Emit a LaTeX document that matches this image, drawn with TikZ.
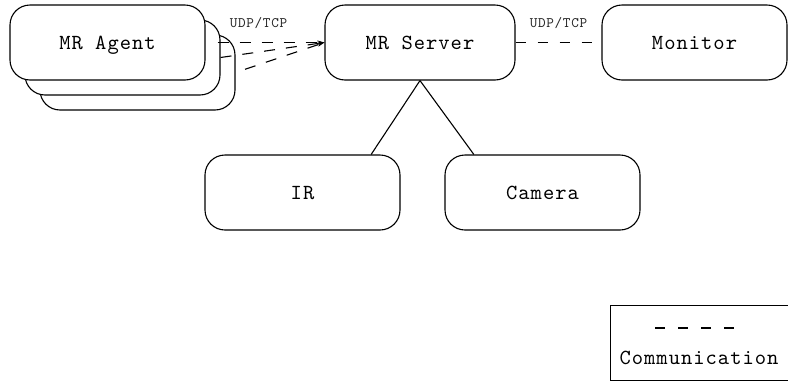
\documentclass[tikz,border=0pt]{standalone}
\usepackage{fontspec}
\setmonofont{lmmono10-regular.otf}[LetterSpace=4.7]
\usetikzlibrary{arrows.meta}
\newcommand{\boxfont}{\ttfamily\fontsize{21.5}{24}\selectfont}
\newcommand{\smallfont}{\ttfamily\fontsize{14.5}{16}\selectfont}
\tikzset{
  box/.style={draw, line width=1.1pt, rounded corners=20pt, fill=white,
    minimum width=195pt, minimum height=75pt, inner sep=0pt, font=\boxfont,
    text depth=0pt},
  comm/.style={line width=1.1pt, dash pattern=on 11pt off 11pt},
  lbl/.style={font=\smallfont, inner sep=0pt, text=black!85},
  link/.style={line width=1.1pt},
  tip/.style={-{Stealth[length=7pt,width=4pt]}}
}
\begin{document}
\begin{tikzpicture}[x=1pt,y=-1pt]
\useasboundingbox (0,0) rectangle (788,381);
\clip (0,0) rectangle (788,381);
% agents (stacked)
\node[box] (a3) at (137.5,72.5) {};
\node[box] (a2) at (122.5,57.5) {};
\node[box] (a1) at (107.5,42.5) {MR Agent};
% other boxes
\node[box, minimum width=190pt] (server) at (420,42.5) {MR Server};
\node[box, minimum width=185pt] (monitor) at (694.5,42.5) {Monitor};
\node[box] (ir) at (302.5,192.5) {IR};
\node[box] (camera) at (542.5,192.5) {Camera};
% communication links
\draw[comm, tip, shorten <=12pt] (a1.east) -- (server.west);
\draw[comm, tip] (a2.east) -- (server.west);
\draw[comm, tip, shorten <=10pt] (a3.east) -- (server.west);
\draw[comm, dash pattern=on 10pt off 12pt] (server.east) -- (monitor.west);
\node[lbl] (udp1) at (258.5,23) {UDP/TCP};
\node[lbl] (udp2) at (558.5,23) {UDP/TCP};
% sensor links
\draw[link] (server.south) -- (ir.29);
\draw[link] (server.south) -- (camera.151);
% legend
\node[draw, line width=1pt, minimum width=185pt, minimum height=75pt, inner sep=0pt] (legend) at (702.5,342.5) {};
\node[font=\boxfont, inner sep=0pt] (legtext) at (699,358) {Communication};
\coordinate (legA) at (655,328);
\coordinate (legB) at (734,328);
\draw[comm, dash pattern=on 10pt off 13pt] (legA) -- (legB);
\end{tikzpicture}
\end{document}
